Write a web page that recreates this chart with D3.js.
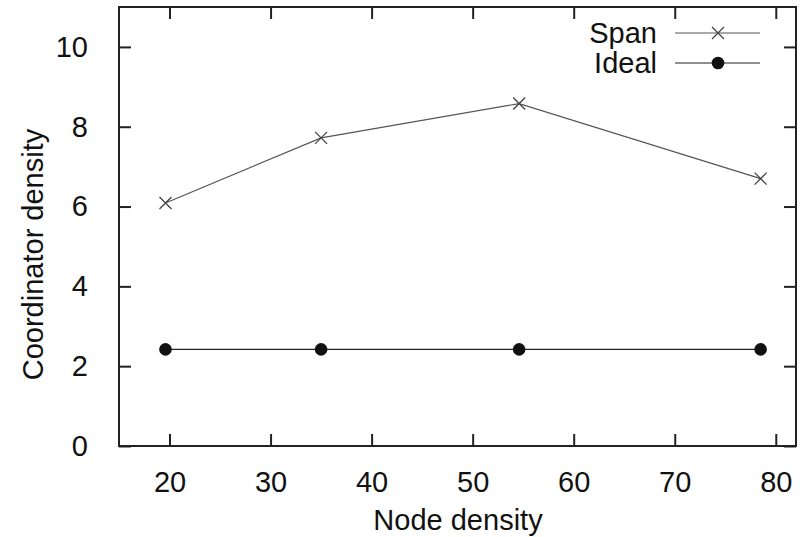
<!DOCTYPE html>
<html><head><meta charset="utf-8">
<script src="https://cdn.jsdelivr.net/npm/d3@7"></script>
<style>body{margin:0;background:#fff}svg{display:block}text{font-family:"Liberation Sans",Arial,sans-serif;fill:#111}</style>
</head><body>
<svg id="c" width="806" height="537"></svg>
<script>
const nodeDensity = [19.6, 35, 54.6, 78.5];
const spanValues = [6.09, 7.72, 8.58, 6.70];
const idealValues = [2.42, 2.42, 2.42, 2.42];
const xTicks = [20, 30, 40, 50, 60, 70, 80];
const yTicks = [0, 2, 4, 6, 8, 10];
const seriesNames = ["Span", "Ideal"];

const svg = d3.select("#c");
const L = 119, R = 796, T = 7, B = 446;
const x = d3.scaleLinear().domain([15, 82]).range([L, R]);
const y = d3.scaleLinear().domain([0, 11]).range([B, T]);
const tickLen = 12;
const FS = 29;

svg.append("rect").attr("x", L).attr("y", T).attr("width", R - L).attr("height", B - T)
  .attr("fill", "none").attr("stroke", "#222").attr("stroke-width", 2);

const gx = svg.append("g").attr("transform", `translate(0,${B})`)
  .call(d3.axisBottom(x).tickValues(xTicks).tickSizeInner(-tickLen).tickSizeOuter(0).tickPadding(tickLen + 13));
const gxt = svg.append("g").attr("transform", `translate(0,${T})`)
  .call(d3.axisTop(x).tickValues(xTicks).tickSizeInner(-tickLen).tickSizeOuter(0).tickFormat(""));
const gy = svg.append("g").attr("transform", `translate(${L},0)`)
  .call(d3.axisLeft(y).tickValues(yTicks).tickSizeInner(-tickLen).tickSizeOuter(0).tickPadding(tickLen + 19));
const gyr = svg.append("g").attr("transform", `translate(${R},0)`)
  .call(d3.axisRight(y).tickValues(yTicks).tickSizeInner(-tickLen).tickSizeOuter(0).tickFormat(""));
[gx, gxt, gy, gyr].forEach(g => {
  g.select(".domain").remove();
  g.selectAll(".tick line").attr("stroke", "#222").attr("stroke-width", 2);
  g.selectAll(".tick text").attr("font-size", FS).attr("fill", "#111")
    .style("font-family", '"Liberation Sans", Arial, sans-serif');
});

svg.append("text").attr("x", 458).attr("y", 530).attr("text-anchor", "middle")
  .attr("font-size", FS).text("Node density");
svg.append("text").attr("transform", `translate(43,${(T + B) / 2 + 28}) rotate(-90)`)
  .attr("text-anchor", "middle").attr("font-size", FS).text("Coordinator density");

const line = d3.line().x(d => x(d[0])).y(d => y(d[1]));
const spanPts = nodeDensity.map((d, i) => [d, spanValues[i]]);
const idealPts = nodeDensity.map((d, i) => [d, idealValues[i]]);

function cross(g, cx, cy, s) {
  g.append("path").attr("d", `M${cx - s},${cy - s}L${cx + s},${cy + s}M${cx - s},${cy + s}L${cx + s},${cy - s}`)
    .attr("stroke", "#444").attr("stroke-width", 1.3).attr("fill", "none");
}

svg.append("path").datum(spanPts).attr("d", line).attr("fill", "none").attr("stroke", "#555").attr("stroke-width", 1.2);
const gs = svg.append("g");
spanPts.forEach(p => cross(gs, x(p[0]), y(p[1]), 6));

svg.append("path").datum(idealPts).attr("d", line).attr("fill", "none").attr("stroke", "#222").attr("stroke-width", 1.2);
svg.append("g").selectAll("circle").data(idealPts).join("circle")
  .attr("cx", d => x(d[0])).attr("cy", d => y(d[1])).attr("r", 6.3).attr("fill", "#111");

const lg = svg.append("g");
const ly = [33, 63];
seriesNames.forEach((name, i) => {
  lg.append("text").attr("x", 657).attr("y", ly[i] + 10).attr("text-anchor", "end")
    .attr("font-size", FS).text(name);
  lg.append("line").attr("x1", 675).attr("x2", 760).attr("y1", ly[i]).attr("y2", ly[i])
    .attr("stroke", i === 0 ? "#555" : "#222").attr("stroke-width", 1.2);
  if (i === 0) cross(lg, 718, ly[i], 6);
  else lg.append("circle").attr("cx", 718).attr("cy", ly[i]).attr("r", 6.3).attr("fill", "#111");
});
</script>
</body></html>
